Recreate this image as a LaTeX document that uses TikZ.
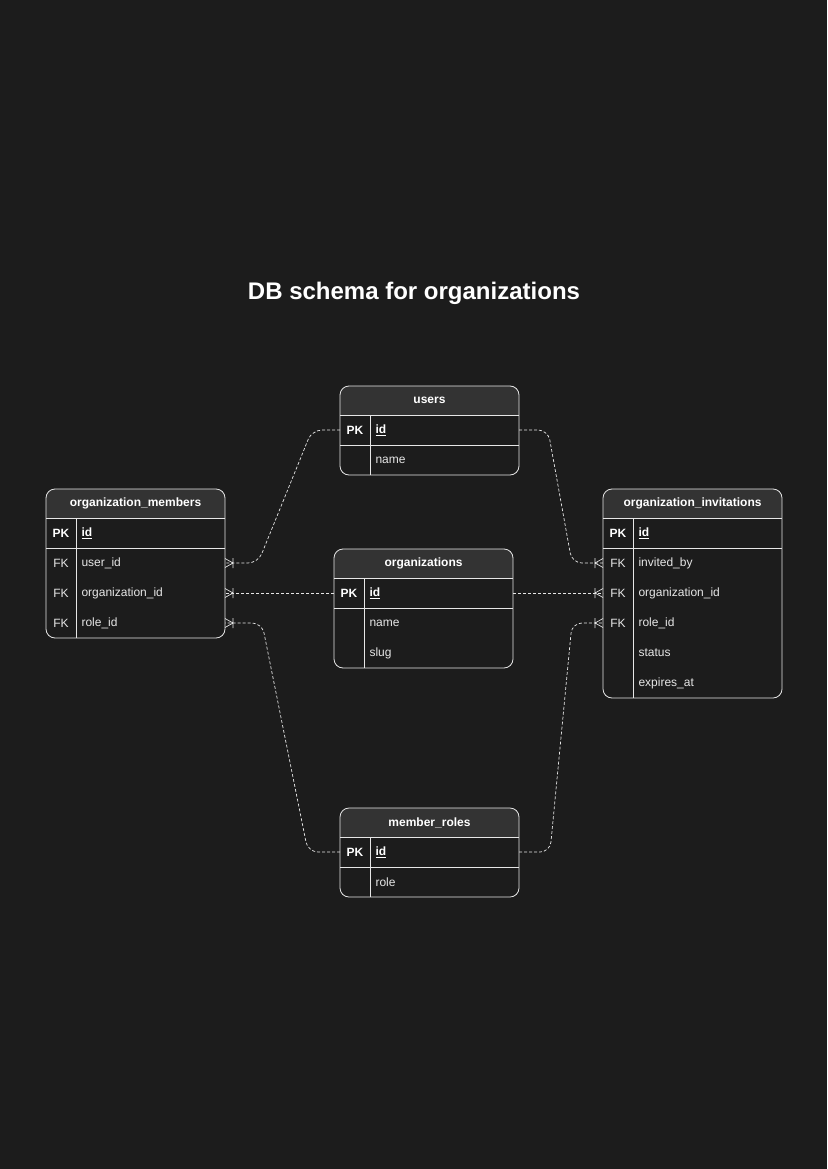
\documentclass[tikz,border=0pt]{standalone}
\usepackage{fontspec}
\setmainfont{Liberation Sans}
\definecolor{bg}{HTML}{1C1C1C}
\definecolor{hd}{HTML}{333333}
\definecolor{ln}{HTML}{E6E6E6}
\tikzset{
  tb/.style={draw=ln,line width=0.8pt,rounded corners=9pt},
  key/.style={text=ln,font=\fontsize{12}{14}\selectfont,anchor=center},
  keyb/.style={text=white,font=\fontsize{12}{14}\selectfont\bfseries,anchor=center},
  fld/.style={text=ln,font=\fontsize{12}{14}\selectfont,anchor=west},
  ttl/.style={text=white,font=\fontsize{12}{14}\selectfont\bfseries,anchor=center},
  rel/.style={draw=ln,line width=0.7pt,dash pattern=on 3pt off 2pt,rounded corners=10pt},
  sep/.style={draw=ln,line width=0.8pt}
}
\newcommand{\tbl}[6]{% x, top, nrows, name, title, keyed rows
  \pgfmathsetmacro{\xr}{#1+179}
  \pgfmathsetmacro{\yb}{#2+29+30*#3}
  \pgfmathsetmacro{\yh}{#2+29}
  \pgfmathsetmacro{\yp}{#2+59}
  \begin{scope}
    \clip[rounded corners=9pt] (#1,#2) rectangle (\xr,\yb);
    \fill[hd] (#1,#2) rectangle (\xr,\yh);
  \end{scope}
  \draw[tb] (#1,#2) rectangle (\xr,\yb);
  \draw[sep] (#1,\yh) -- (\xr,\yh);
  \draw[sep] (#1,\yp) -- (\xr,\yp);
  \draw[sep] (#1+30,\yh) -- (#1+30,\yb);
  \node[ttl] (#4) at (#1+89.5,#2+14.5) {#5};
}
\newcommand{\crowL}[1]{%
  \draw[ln,line width=0.7pt] ([yshift=-4.5pt]#1) -- ([xshift=8pt]#1) -- ([yshift=4.5pt]#1)
    ([xshift=8pt,yshift=-5pt]#1) -- ([xshift=8pt,yshift=5pt]#1);}
\newcommand{\crowR}[1]{%
  \draw[ln,line width=0.7pt] ([yshift=-4.5pt]#1) -- ([xshift=-8pt]#1) -- ([yshift=4.5pt]#1)
    ([xshift=-8pt,yshift=-5pt]#1) -- ([xshift=-8pt,yshift=5pt]#1);}
\begin{document}
\begin{tikzpicture}[x=1pt,y=-1pt]
\fill[bg] (0,0) rectangle (827,1169);
\useasboundingbox (0,0) rectangle (827,1169);
\node[text=white,font=\fontsize{24}{28}\selectfont\bfseries] (title) at (414,293) {DB schema for organizations};

\tbl{340}{386}{2}{users}{users}{}
\node[keyb] (u-pk) at (355,430) {PK};
\node[fld,font=\fontsize{12}{14}\selectfont\bfseries,text=white] (u-id) at (372,430) {\underline{id}};
\node[fld] (u-name) at (372,460) {name};
\coordinate (uL) at (340,430); \coordinate (uR) at (519,430);

\tbl{46}{489}{4}{om}{organization\_members}{}
\node[keyb] (om-pk) at (61,533) {PK};
\node[fld,font=\fontsize{12}{14}\selectfont\bfseries,text=white] (om-id) at (78,533) {\underline{id}};
\node[key] (om-fk1) at (61,563) {FK}; \node[fld] (om-u) at (78,563) {user\_id};
\node[key] (om-fk2) at (61,593) {FK}; \node[fld] (om-o) at (78,593) {organization\_id};
\node[key] (om-fk3) at (61,623) {FK}; \node[fld] (om-r) at (78,623) {role\_id};
\coordinate (omU) at (225,563); \coordinate (omO) at (225,593); \coordinate (omR) at (225,623);

\tbl{334}{549}{3}{org}{organizations}{}
\node[keyb] (o-pk) at (349,593) {PK};
\node[fld,font=\fontsize{12}{14}\selectfont\bfseries,text=white] (o-id) at (366,593) {\underline{id}};
\node[fld] (o-name) at (366,623) {name};
\node[fld] (o-slug) at (366,653) {slug};
\coordinate (oL) at (334,593); \coordinate (oR) at (513,593);

\tbl{603}{489}{6}{oi}{organization\_invitations}{}
\node[keyb] (oi-pk) at (618,533) {PK};
\node[fld,font=\fontsize{12}{14}\selectfont\bfseries,text=white] (oi-id) at (635,533) {\underline{id}};
\node[key] (oi-fk1) at (618,563) {FK}; \node[fld] (oi-i) at (635,563) {invited\_by};
\node[key] (oi-fk2) at (618,593) {FK}; \node[fld] (oi-o) at (635,593) {organization\_id};
\node[key] (oi-fk3) at (618,623) {FK}; \node[fld] (oi-r) at (635,623) {role\_id};
\node[fld] (oi-s) at (635,653) {status};
\node[fld] (oi-e) at (635,683) {expires\_at};
\coordinate (oiI) at (603,563); \coordinate (oiO) at (603,593); \coordinate (oiR) at (603,623);

\tbl{340}{808}{2}{mr}{member\_roles}{}
\node[keyb] (mr-pk) at (355,852) {PK};
\node[fld,font=\fontsize{12}{14}\selectfont\bfseries,text=white] (mr-id) at (372,852) {\underline{id}};
\node[fld] (mr-role) at (372,882) {role};
\coordinate (mL) at (340,852); \coordinate (mR) at (519,852);

\draw[rel] (uL) -- (312,430) -- (258,563) -- (omU);
\draw[rel] (uR) -- (548,430) -- (572,563) -- (oiI);
\draw[rel] (oL) -- (omO);
\draw[rel] (oR) -- (oiO);
\draw[rel] (mL) -- (308,852) -- (262,623) -- (omR);
\draw[rel] (mR) -- (550,852) -- (572,623) -- (oiR);
\crowL{omU} \crowL{omO} \crowL{omR}
\crowR{oiI} \crowR{oiO} \crowR{oiR}
\end{tikzpicture}
\end{document}
